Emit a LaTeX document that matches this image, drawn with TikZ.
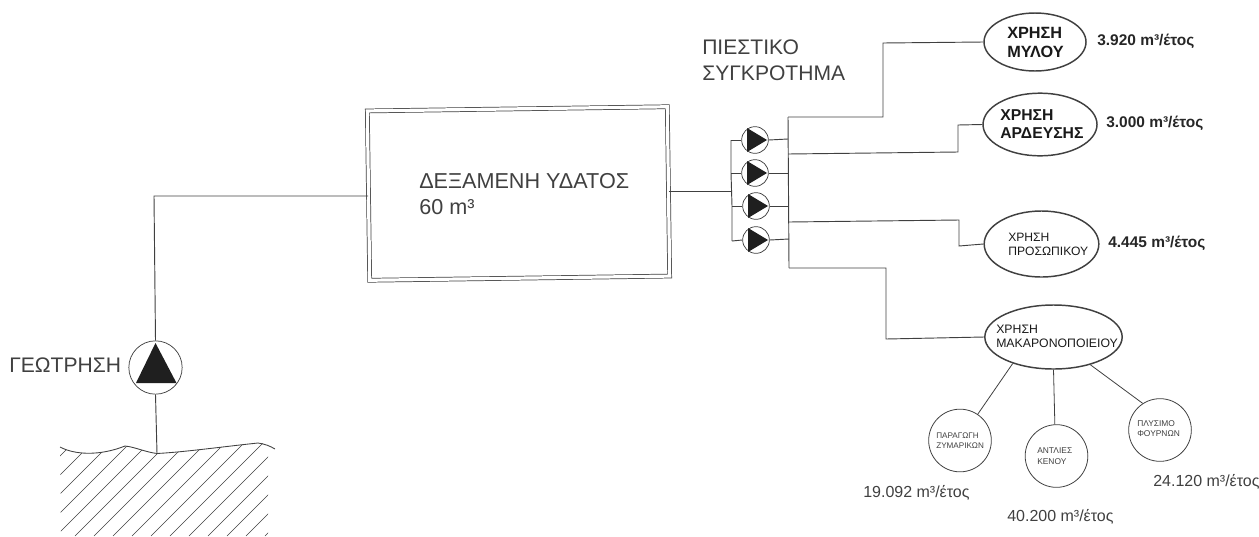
\documentclass[tikz,border=0pt]{standalone}
\usepackage{fontspec}
\setmainfont{Liberation Sans}
\usetikzlibrary{shapes.geometric}
\definecolor{ink}{gray}{0.25}
\definecolor{txt}{gray}{0.25}
\tikzset{
  x=0.75pt,y=-0.75pt,
  pipe/.style={draw=ink,line width=0.7pt},
  thin pipe/.style={draw=ink,line width=0.6pt},
  ring/.style={circle,draw=ink,line width=0.55pt,fill=white,inner sep=0pt},
  use/.style={ellipse,draw=ink,line width=1.1pt,inner sep=0pt},
  sub/.style={circle,draw=ink,line width=0.6pt,inner sep=0pt,minimum size=47pt},
  lab/.style={inner sep=0pt,anchor=west,text=txt,align=left},
  boldlab/.style={inner sep=0pt,anchor=west,text=black!85,font=\bfseries\fontsize{11.6}{14}\selectfont},
  usetext/.style={inner sep=0pt,anchor=west,align=left,text=black!90},
  sm/.style={inner sep=0pt,anchor=west,text=txt,font=\fontsize{12}{14}\selectfont},
  tiny/.style={inner sep=0pt,anchor=west,align=left,text=txt,font=\fontsize{6.1}{7.4}\selectfont},
  hatch/.style={draw=ink,line width=0.45pt},
}
\begin{document}
\begin{tikzpicture}
\useasboundingbox (0,0) rectangle (1259,536);
% tank
\node[draw=ink,line width=0.55pt,minimum width=225pt,minimum height=127pt,inner sep=0pt,double=white,double distance=2.4pt,rotate=0.8] (tank) at (518.5,193.5) {};
\node[lab,font=\fontsize{16.2}{19}\selectfont] (tanklab) at (419,194) {ΔΕΞΑΜΕΝΗ ΥΔΑΤΟΣ\\60 m³};
% well pump
\node[ring,minimum size=40pt] (well) at (155.5,367.5) {};
\fill[black!88] (155.5,343) -- (176.5,383) -- (136,383) -- cycle;
\node[lab,font=\fontsize{15.8}{18}\selectfont] (welllab) at (9,365) {ΓΕΩΤΡΗΣΗ};
\coordinate (ground) at (157,453.5);
\coordinate (wellup) at (154,196);
\draw[pipe] (well.south) -- (ground);
\draw[pipe] (well.north) -- (wellup) -- (tank.west |- wellup);
% ground
\draw[hatch,line width=0.65pt] (60,447) .. controls (75,455) and (100,456) .. (125,446) .. controls (135,447) and (145,452) .. (157,453.5) .. controls (185,452) and (220,447) .. (258,443) .. controls (265,444) and (270,446) .. (275,449);
\begin{scope}
\clip (60,447) .. controls (75,455) and (100,456) .. (125,446) .. controls (135,447) and (145,452) .. (157,453.5) .. controls (185,452) and (220,447) .. (258,443) -- (268,444) -- (268,536) -- (61,536) -- cycle;
\foreach \k in {0,...,17}
  \draw[hatch] ({\k*19-20},536) -- ++(130,-130);
\end{scope}
% pump bank
\coordinate (inlet) at (731,191);
\coordinate (m1) at (731,140);
\coordinate (m2) at (731,173);
\coordinate (m3) at (732,206);
\coordinate (m4) at (732,241);
\coordinate (c1) at (788,117);
\coordinate (c2) at (788,154);
\coordinate (c3) at (789,222);
\coordinate (c4) at (789,268);
\coordinate (o1) at (788,139);
\coordinate (o2) at (788,173);
\coordinate (o3) at (789,206);
\coordinate (o4) at (789,239);
\draw[pipe] (tank.east |- inlet) -- (inlet);
\draw[pipe] (m1) -- (m2) -- (m3) -- (m4);
\draw[pipe] (c1) -- (c4);
\foreach \n/\yy/\xx in {1/140/755,2/173/755,3/206/756,4/240/756}{
  \node[ring,minimum size=20pt] (p\n) at (\xx,\yy) {};
  \draw[pipe] (m\n) -- (p\n.west);
  \draw[pipe] (p\n.east) -- (o\n);
  \fill[black!88] (\xx-8,\yy-12) -- (\xx+12,\yy) -- (\xx-8,\yy+12) -- cycle;
}
\node[lab,font=\fontsize{15.8}{19.5}\selectfont] (banklab) at (702,60) {ΠΙΕΣΤΙΚΟ\\ΣΥΓΚΡΟΤΗΜΑ};
% uses
\node[use,minimum width=76.5pt,minimum height=43.5pt] (u1) at (1035,42) {};
\node[usetext,font=\bfseries\fontsize{12.2}{14.25}\selectfont] (t1) at (1007,42.5) {ΧΡΗΣΗ\\ΜΥΛΟΥ};
\node[use,minimum width=85.5pt,minimum height=47pt] (u2) at (1040,124.5) {};
\node[usetext,font=\bfseries\fontsize{11.8}{13.8}\selectfont] (t2) at (1000,124) {ΧΡΗΣΗ\\ΑΡΔΕΥΣΗΣ};
\node[use,minimum width=86pt,minimum height=49.5pt] (u3) at (1041.5,244) {};
\node[usetext,font=\fontsize{9.1}{11}\selectfont] (t3) at (1008,244.5) {ΧΡΗΣΗ\\ΠΡΟΣΩΠΙΚΟΥ};
\node[use,minimum width=103pt,minimum height=48pt] (u4) at (1053.5,337) {};
\node[usetext,font=\fontsize{9.2}{10.5}\selectfont] (t4) at (996,336) {ΧΡΗΣΗ\\ΜΑΚΑΡΟΝΟΠΟΙΕΙΟΥ};
\draw[pipe] (c1) -- (883,117) -- (883,43) -- (u1.west);
\draw[pipe] (c2) -- (958,152) -- (958,125) -- (u2.west);
\draw[pipe] (c3) -- (959,220) -- (959,246) -- (u3.west);
\draw[pipe] (c4) -- (886,268) -- (886,339) -- (u4.west);
\node[boldlab] (v1) at (1097,41) {3.920 m³/έτος};
\node[boldlab] (v2) at (1106,123) {3.000 m³/έτος};
\node[boldlab] (v3) at (1108,243) {4.445 m³/έτος};
% sub-uses
\node[sub] (s1) at (960,440.5) {};
\node[sub] (s2) at (1056.5,456) {};
\node[sub] (s3) at (1160,430) {};
\node[tiny] (st1) at (936,440.5) {ΠΑΡΑΓΩΓΗ\\ΖΥΜΑΡΙΚΩΝ};
\node[tiny,font=\fontsize{6.3}{8.3}\selectfont] (st2) at (1037,456.5) {ΑΝΤΛΙΕΣ\\ΚΕΝΟΥ};
\node[tiny,font=\fontsize{6.3}{7.5}\selectfont] (st3) at (1137,429) {ΠΛΥΣΙΜΟ\\ΦΟΥΡΝΩΝ};
\draw[thin pipe] (u4.213) -- (s1.56);
\draw[thin pipe] (u4.south) -- (s2.93);
\draw[thin pipe] (u4.-37) -- (s3.123);
\node[sm] (v4) at (863,493) {19.092 m³/έτος};
\node[sm] (v5) at (1007,517) {40.200 m³/έτος};
\node[sm] (v6) at (1153,482) {24.120 m³/έτος};
\end{tikzpicture}
\end{document}
